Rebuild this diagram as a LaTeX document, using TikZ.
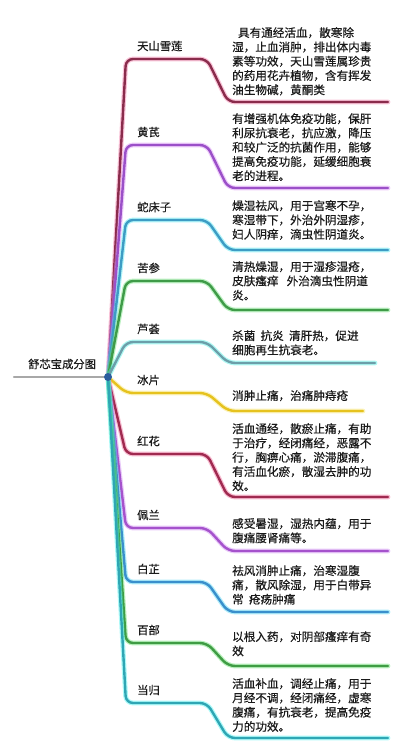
\documentclass[tikz,border=0pt]{standalone}
\usepackage{fontspec}
\setmainfont{Noto Sans CJK SC}[FakeBold=0.6]
\usepackage{xcolor}
\usepackage{tikz}
\usetikzlibrary{positioning}
\definecolor{ink}{HTML}{1A1A1A}
\definecolor{rootgrey}{HTML}{A8A8A8}
\definecolor{hubblue}{HTML}{2B5C9E}
\definecolor{xuelian}{HTML}{8A2C4C}  \definecolor{xuelianglow}{HTML}{F27AA8}
\definecolor{huangqi}{HTML}{9B50C8}  \definecolor{huangqiglow}{HTML}{D890F5}
\definecolor{shechuang}{HTML}{3D9CC4}\definecolor{shechuangglow}{HTML}{4FE6F2}
\definecolor{kushen}{HTML}{3F9B48}   \definecolor{kushenglow}{HTML}{6EE07A}
\definecolor{luhui}{HTML}{6C9FAA}    \definecolor{luhuiglow}{HTML}{4CF0E4}
\definecolor{bingpian}{HTML}{E6C21E} \definecolor{bingpianglow}{HTML}{F6E46A}
\definecolor{honghua}{HTML}{A02A50}  \definecolor{honghuaglow}{HTML}{EE6A98}
\definecolor{peilan}{HTML}{A552CC}   \definecolor{peilanglow}{HTML}{CF8BF2}
\definecolor{baizhi}{HTML}{3A8FCC}   \definecolor{baizhiglow}{HTML}{4FD6F2}
\definecolor{baibu}{HTML}{3F9C44}    \definecolor{baibuglow}{HTML}{66E06E}
\definecolor{danggui}{HTML}{2FA6B4}  \definecolor{dangguiglow}{HTML}{48F2F0}

\begin{document}
\begin{tikzpicture}[x=1pt,y=-1pt,
  herb/.style={font=\fontsize{11.3}{14}\selectfont,text=ink,anchor=west,inner sep=0pt},
  info/.style={font=\fontsize{11.6}{14.3}\selectfont,text=ink,align=left,anchor=north west,inner sep=0pt},
  glow/.style={line width=4.8pt,rounded corners=7pt,opacity=.45,line cap=round},
  stem/.style={line width=2.4pt,rounded corners=7pt,line cap=round}]
  \useasboundingbox (0,0) rectangle (400,753);
  \coordinate (hub) at (108,377);
  \coordinate (rootend) at (14,377);
  \draw[line width=2.4pt,draw=rootgrey,line cap=round] (rootend) -- (hub);
  \node[herb] (root) at (28,364) {舒芯宝成分图};

  % branches: number/top/bottom/end/colour
  \foreach \n/\t/\b/\e/\col in {1/59/102/388/xuelian,2/145/188/388/huangqi,
      3/220/250/388/shechuang,4/281/310/388/kushen,5/342/363/375/luhui,
      6/393/411/363/bingpian,7/454/497/388/honghua,8/528/551/388/peilan,
      9/582/612/388/baizhi,10/643/666/388/baibu,11/703/738/388/danggui} {
    \coordinate (end\n) at (\e,\b);
    \draw[glow,draw=\col glow] (hub) -- (126,\t) -- (207,\t) -- (228,\b) -- (end\n);
    \draw[stem,draw=\col] (hub) -- (126,\t) -- (207,\t) -- (228,\b) -- (end\n);
  }
  \node[circle,fill=hubblue,inner sep=0pt,minimum size=8pt] (dot) at (hub) {};

  % herb names
  \node[herb] (h1)  at (137,46)  {天山雪莲};
  \node[herb] (h2)  at (137,132) {黄芪};
  \node[herb] (h3)  at (137,207) {蛇床子};
  \node[herb] (h4)  at (137,268) {苦参};
  \node[herb] (h5)  at (137,329) {芦荟};
  \node[herb] (h6)  at (137,380) {冰片};
  \node[herb] (h7)  at (137,441) {红花};
  \node[herb] (h8)  at (137,515) {佩兰};
  \node[herb] (h9)  at (137,569) {白芷};
  \node[herb] (h10) at (137,630) {百部};
  \node[herb] (h11) at (137,690) {当归};

  % effects
  \node[info] (t1)  at (232,27)  {\hspace{0.5em}具有通经活血，散寒除\\湿，止血消肿，排出体内毒\\素等功效，天山雪莲属珍贵\\的药用花卉植物，含有挥发\\油生物碱，黄酮类};
  \node[info] (t2)  at (232,113) {有增强机体免疫功能，保肝\\利尿抗衰老，抗应激，降压\\和较广泛的抗菌作用，能够\\提高免疫功能，延缓细胞衰\\老的进程。};
  \node[info] (t3)  at (232,200) {燥湿祛风，用于宫寒不孕，\\寒湿带下，外治外阴湿疹，\\妇人阴痒，滴虫性阴道炎。};
  \node[info] (t4)  at (232,261) {清热燥湿，用于湿疹湿疮，\\皮肤瘙痒\hspace{0.7em}外治滴虫性阴道\\炎。};
  \node[info] (t5)  at (232,330) {杀菌\hspace{0.45em}抗炎\hspace{0.45em}清肝热，促进\\细胞再生抗衰老。};
  \node[info] (t6)  at (232,390) {消肿止痛，治痛肿痔疮};
  \node[info] (t7)  at (232,423) {活血通经，散瘀止痛，有助\\于治疗，经闭痛经，恶露不\\行，胸痹心痛，淤滞腹痛，\\有活血化瘀，散湿去肿的功\\效。};
  \node[info] (t8)  at (232,518) {感受暑湿，湿热内蕴，用于\\腹痛腰肾痛等。};
  \node[info] (t9)  at (232,565) {祛风消肿止痛，治寒湿腹\\痛，散风除湿，用于白带异\\常\hspace{0.45em}疮疡肿痛};
  \node[info] (t10) at (232,631) {以根入药，对阴部瘙痒有奇\\效};
  \node[info] (t11) at (232,678) {活血补血，调经止痛，用于\\月经不调，经闭痛经，虚寒\\腹痛，有抗衰老，提高免疫\\力的功效。};
\end{tikzpicture}
\end{document}
